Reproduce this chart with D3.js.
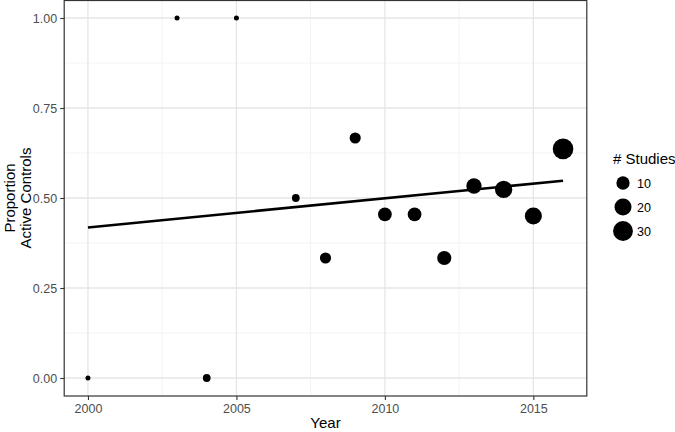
<!DOCTYPE html>
<html><head><meta charset="utf-8">
<script src="https://cdn.jsdelivr.net/npm/d3@7"></script>
<style>body{margin:0;background:#fff}svg{display:block}text{font-family:"Liberation Sans",Arial,Helvetica,sans-serif}</style>
</head><body><svg id="c" width="675" height="432"></svg>
<script>
const years = [2000, 2003, 2004, 2005, 2007, 2008, 2009, 2010, 2011, 2012, 2013, 2014, 2015, 2016];
const proportions = [0, 1, 0, 1, 0.5, 0.3333, 0.6667, 0.4545, 0.4545, 0.3333, 0.5333, 0.5238, 0.45, 0.6364];
const studies = [1, 1, 2, 1, 2, 6, 6, 11, 11, 12, 15, 21, 20, 33];
const fitYears = [2000, 2016];
const fitValues = [0.418, 0.548];
const xTicks = [2000, 2005, 2010, 2015];
const xMinor = [2002.5, 2007.5, 2012.5];
const yTicks = [0, 0.25, 0.5, 0.75, 1];
const yMinor = [0.125, 0.375, 0.625, 0.875];
const legendValues = [10, 20, 30];

const svg = d3.select("#c");
const L = 64.2, R = 586.8, T = 0, B = 396;
const x = d3.scaleLinear().domain([1999.2, 2016.8]).range([L, R]);
const y = d3.scaleLinear().domain([-0.05, 1.05]).range([B, T]);
const nMin = d3.min(studies), nMax = d3.max(studies);
const r = n => 2.5 + 7.8 * Math.sqrt((n - nMin) / (nMax - nMin));

const g = svg.append("g");
g.append("rect").attr("x", L).attr("y", T).attr("width", R - L).attr("height", B - T).attr("fill", "#fff");
g.selectAll(".mx").data(xMinor).join("line").attr("x1", d => x(d)).attr("x2", d => x(d)).attr("y1", T).attr("y2", B).attr("stroke", "#f0f0f0").attr("stroke-width", 0.8);
g.selectAll(".my").data(yMinor).join("line").attr("y1", d => y(d)).attr("y2", d => y(d)).attr("x1", L).attr("x2", R).attr("stroke", "#f0f0f0").attr("stroke-width", 0.8);
g.selectAll(".gx").data(xTicks).join("line").attr("x1", d => x(d)).attr("x2", d => x(d)).attr("y1", T).attr("y2", B).attr("stroke", "#e6e6e6").attr("stroke-width", 1.3);
g.selectAll(".gy").data(yTicks).join("line").attr("y1", d => y(d)).attr("y2", d => y(d)).attr("x1", L).attr("x2", R).attr("stroke", "#e6e6e6").attr("stroke-width", 1.3);

const xAxis = d3.axisBottom(x).tickValues(xTicks).tickFormat(d3.format("d")).tickSize(4).tickPadding(4);
const yAxis = d3.axisLeft(y).tickValues(yTicks).tickFormat(d3.format(".2f")).tickSize(4).tickPadding(3);
const gx = svg.append("g").attr("transform", `translate(0,${B})`).call(xAxis);
const gy = svg.append("g").attr("transform", `translate(${L},0)`).call(yAxis);
[gx, gy].forEach(a => {
  a.attr("font-size", null).attr("font-family", null);
  a.select(".domain").remove();
  a.selectAll(".tick line").attr("stroke", "#333").attr("stroke-width", 1.1);
  a.selectAll(".tick text").attr("fill", "#4d4d4d").style("font-size", "12.5px");
});

svg.append("g").selectAll("circle").data(years.map((yr, i) => ({yr, p: proportions[i], n: studies[i]})))
  .join("circle").attr("cx", d => x(d.yr)).attr("cy", d => y(d.p)).attr("r", d => r(d.n)).attr("fill", "#000");

svg.append("path").datum(fitYears.map((yr, i) => [yr, fitValues[i]]))
  .attr("d", d3.line().x(d => x(d[0])).y(d => y(d[1]))).attr("stroke", "#000").attr("stroke-width", 2.6).attr("fill", "none");

svg.append("rect").attr("x", L).attr("y", T + 0.5).attr("width", R - L).attr("height", B - T - 0.5).attr("fill", "none").attr("stroke", "#333").attr("stroke-width", 1.2);

svg.append("text").attr("x", (L + R) / 2).attr("y", 428).attr("text-anchor", "middle").style("font-size", "15px").attr("fill", "#000").text("Year");
const yt = svg.append("text").attr("transform", `translate(0,${(T + B) / 2}) rotate(-90)`).attr("text-anchor", "middle").style("font-size", "15px").attr("fill", "#000");
yt.append("tspan").attr("x", 0).attr("y", 15).text("Proportion");
yt.append("tspan").attr("x", 0).attr("y", 31).text("Active Controls");

const lg = svg.append("g");
lg.append("text").attr("x", 613).attr("y", 164).style("font-size", "15px").attr("fill", "#000").text("# Studies");
const ly = d3.scalePoint().domain(legendValues).range([183, 231]);
lg.selectAll("circle").data(legendValues).join("circle").attr("cx", 623).attr("cy", d => ly(d)).attr("r", d => r(d)).attr("fill", "#000");
lg.selectAll(".lt").data(legendValues).join("text").attr("x", 637).attr("y", d => ly(d) + 4.5).style("font-size", "12.5px").attr("fill", "#000").text(d => d);
</script></body></html>
